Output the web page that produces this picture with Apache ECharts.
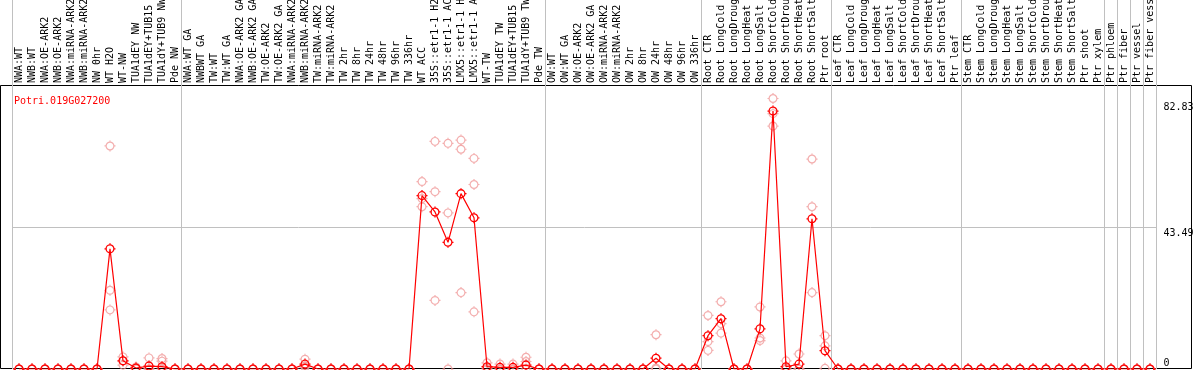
<!DOCTYPE html>
<html><head><meta charset="utf-8">
<script src="https://cdn.jsdelivr.net/npm/echarts@6/dist/echarts.min.js"></script>
<style>html,body{margin:0;padding:0;background:#fff}#c{width:1194px;height:370px}</style>
</head><body><div id="c"></div>
<script>
const geneName = 'Potri.019G027200';

const categories = [
  'NWA:WT','NWB:WT','NWA:OE-ARK2','NWB:OE-ARK2','NWA:miRNA-ARK2','NWB:miRNA-ARK2','NW 0hr','WT H2O','WT-NW','TUA1dEY NW',
  'TUA1dEY+TUB15 NW','TUA1dY+TUB9 NW','Pde NW','NWA:WT GA','NWBWT GA','TW:WT','TW:WT GA','NWA:OE-ARK2 GA','NWB:OE-ARK2 GA','TW:OE-ARK2',
  'TW:OE-ARK2 GA','NWA:miRNA-ARK2 GA','NWB:miRNA-ARK2 GA','TW:miRNA-ARK2','TW:miRNA-ARK2 GA','TW 2hr','TW 8hr','TW 24hr','TW 48hr','TW 96hr',
  'TW 336hr','WT ACC','35S::etr1-1 H2O','35S::etr1-1 ACC','LMX5::etr1-1 H2O','LMX5::etr1-1 ACC','WT-TW','TUA1dEY TW','TUA1dEY+TUB15 TW','TUA1dY+TUB9 TW',
  'Pde TW','OW:WT','OW:WT GA','OW:OE-ARK2','OW:OE-ARK2 GA','OW:miRNA-ARK2','OW:miRNA-ARK2 GA','OW 2hr','OW 8hr','OW 24hr',
  'OW 48hr','OW 96hr','OW 336hr','Root CTR','Root LongCold','Root LongDrought','Root LongHeat','Root LongSalt','Root ShortCold','Root ShortDrought',
  'Root ShortHeat','Root ShortSalt','Ptr root','Leaf CTR','Leaf LongCold','Leaf LongDrought','Leaf LongHeat','Leaf LongSalt','Leaf ShortCold','Leaf ShortDrought',
  'Leaf ShortHeat','Leaf ShortSalt','Ptr leaf','Stem CTR','Stem LongCold','Stem LongDrought','Stem LongHeat','Stem LongSalt','Stem ShortCold','Stem ShortDrought',
  'Stem ShortHeat','Stem ShortSalt','Ptr shoot','Ptr xylem','Ptr phloem','Ptr fiber','Ptr vessel','Ptr fiber vessel'
];

const meanValues = [
  0,0,0,0,0,0,0,36.8,2.5,0.3,
  0.9,0.7,0,0,0,0,0,0,0,0,
  0,0,1.5,0,0,0,0,0,0,0,
  0,53.1,48.1,38.8,53.7,46.3,0.7,0.5,0.5,1.2,
  0,0,0,0,0,0,0,0,0,3.3,
  0,0,0,10.2,15.4,0,0,12.3,79.0,0.7,
  1.5,46.0,5.6,0,0,0,0,0,0,0,
  0,0,0,0,0,0,0,0,0,0,
  0,0,0,0,0,0,0,0
];

const rep1 = [
  0,0,0,0,0,0,0,68.3,3.7,0.6,
  3.4,3.2,0,0,0,0,0,0,0,0,
  0,0,3.0,0,0,0,0,0,0,0,
  0,57.4,69.7,69.1,70.1,64.5,1.9,1.5,1.5,3.6,
  0,0,0,0,0,0,0,0,0,10.5,
  0,0,0,16.4,20.6,0,0,19.0,82.83,2.5,
  4.6,64.3,10.2,0,0,0,0,0,0,0,
  0,0,0,0,0,0,0,0,0,0,
  0,0,0,0,0,0,0,0
];

const rep2 = [
  0,0,0,0,0,0,0,24.1,2.5,0.3,
  0,2.4,0,0,0,0,0,0,0,0,
  0,0,1.0,0,0,0,0,0,0,0,
  0,52.2,54.3,47.8,67.3,56.5,0.3,0,0,2.3,
  0,0,0,0,0,0,0,0,0,0.3,
  0,0,0,8.4,13.9,0,0,9.5,78.2,0,
  0,49.7,7.1,0,0,0,0,0,0,0,
  0,0,0,0,0,0,0,0,0,0,
  0,0,0,0,0,0,0,0
];

const rep3 = [
  0,0,0,0,0,0,0,18.1,1.2,0,
  0,0,0,0,0,0,0,0,0,0,
  0,0,0.5,0,0,0,0,0,0,0,
  0,49.7,21.0,0,23.4,17.5,0,0,0,0,
  0,0,0,0,0,0,0,0,0,0,
  0,0,0,5.7,11.0,0,0,8.7,74.4,0,
  0,23.4,0.2,0,0,0,0,0,0,0,
  0,0,0,0,0,0,0,0,0,0,
  0,0,0,0,0,0,0,0
];

const yTickLabels = [0, 43.49, 82.83];
const yGridValues = [43.49];
// index of first category in each group (a separator is drawn on its left edge)
const groupStarts = [0, 13, 41, 53, 63, 73, 84, 85, 86, 87];

const MONO = 'DejaVu Sans Mono';
// circle (r 3.9) with four short outward ticks, in an 11x11 box
const markerPath = 'path://M5.5,0L5.5,1.6M5.5,9.4L5.5,11M0,5.5L1.6,5.5M9.4,5.5L11,5.5' +
  'M1.6,5.5C1.6,3.346 3.346,1.6 5.5,1.6C7.654,1.6 9.4,3.346 9.4,5.5C9.4,7.654 7.654,9.4 5.5,9.4C3.346,9.4 1.6,7.654 1.6,5.5Z';
const sepFn = function (idx) { return groupStarts.indexOf(idx) >= 0; };
const yMax = yTickLabels[yTickLabels.length - 1] * 1.05;

const chart = echarts.init(document.getElementById('c'), null, {renderer: 'canvas'});

function repSeries(arr) {
  return {
    type: 'scatter', xAxisIndex: 0, yAxisIndex: 0, data: arr,
    symbol: markerPath, symbolSize: 11,
    itemStyle: {color: 'rgba(0,0,0,0)', borderColor: '#f09a9a', borderWidth: 1.2},
    z: 2, silent: true
  };
}

chart.setOption({
  animation: false,
  backgroundColor: '#fff',
  title: {
    text: geneName, left: 9, top: 91,
    textStyle: {color: '#ff0000', fontSize: 10, fontFamily: MONO, fontWeight: 'normal'}
  },
  grid: [
    {left: 12.5, right: 37.5, top: 85, bottom: 1, containLabel: false, outerBoundsMode: 'none'},
    {left: 12.5, right: 37.5, top: 0, height: 85, containLabel: false, outerBoundsMode: 'none'}
  ],
  xAxis: [
    {
      type: 'category', gridIndex: 0, position: 'top', data: categories,
      axisLine: {show: false, onZero: false}, axisTick: {show: false},
      axisLabel: {interval: 0, rotate: -90, fontSize: 10, fontFamily: MONO, color: '#000', margin: 2, hideOverlap: false},
      splitLine: {show: true, interval: sepFn, lineStyle: {color: '#c0c0c0', width: 1}}
    },
    {
      type: 'category', gridIndex: 1, data: categories,
      axisLine: {show: false}, axisTick: {show: false}, axisLabel: {show: false},
      splitLine: {show: true, interval: sepFn, lineStyle: {color: '#c0c0c0', width: 1}}
    }
  ],
  yAxis: [
    {
      type: 'value', gridIndex: 0, position: 'right', min: 0, max: yMax,
      axisLine: {show: false},
      axisTick: {show: false, customValues: yGridValues},
      splitLine: {show: true, lineStyle: {color: '#c0c0c0', width: 1}},
      axisLabel: {
        customValues: yTickLabels, margin: 7, fontSize: 10, fontFamily: MONO, color: '#000',
        formatter: function (v) {
          if (v === yTickLabels[0]) return '{lo|' + v + '}';
          if (v === yTickLabels[yTickLabels.length - 1]) return '{hi|' + v + '}';
          return '{mid|' + v + '}';
        },
        rich: {
          lo: {fontSize: 10, fontFamily: MONO, color: '#000', padding: [0, 0, 11, 0]},
          mid: {fontSize: 10, fontFamily: MONO, color: '#000', padding: [13, 0, 0, 0]},
          hi: {fontSize: 10, fontFamily: MONO, color: '#000', padding: [17, 0, 0, 0]}
        }
      }
    },
    {type: 'value', gridIndex: 1, show: false, splitLine: {show: false}}
  ],
  graphic: [
    {type: 'rect', z: 0, silent: true,
     shape: {x: 0.5, y: 85.5, width: 1191, height: 283},
     style: {fill: 'none', stroke: '#000', lineWidth: 1}}
  ],
  series: [
    repSeries(rep1), repSeries(rep2), repSeries(rep3),
    {
      type: 'line', xAxisIndex: 0, yAxisIndex: 0, data: meanValues,
      symbol: markerPath, symbolSize: 11, showAllSymbol: true,
      lineStyle: {color: '#ff0000', width: 1.2},
      itemStyle: {color: 'rgba(0,0,0,0)', borderColor: '#ff0000', borderWidth: 1.3},
      z: 3, silent: true
    }
  ]
});
</script>
</body></html>
